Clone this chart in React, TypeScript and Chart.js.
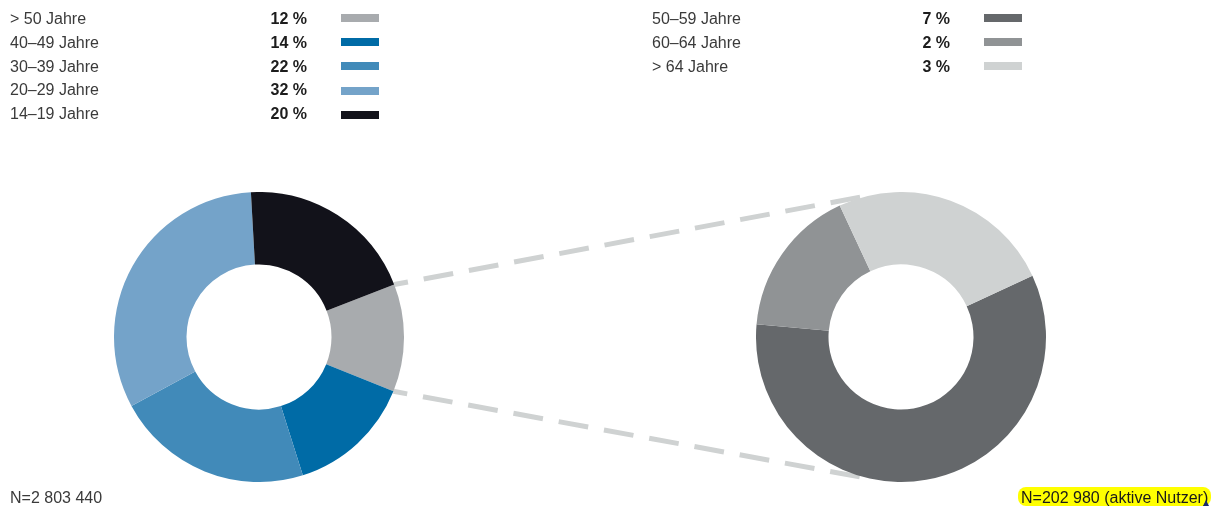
import React, { useEffect, useRef } from "react";
import { Chart, registerables } from "chart.js";

Chart.register(...registerables);

// ---- data ----
const leftLabels = ["> 50 Jahre", "40–49 Jahre", "30–39 Jahre", "20–29 Jahre", "14–19 Jahre"];
const leftValues = [12, 14, 22, 32, 20];
const leftColors = ["#a8abae", "#006ba6", "#418ab9", "#74a3c9", "#12121a"];

const rightLabels = ["50–59 Jahre", "60–64 Jahre", "> 64 Jahre"];
const rightValues = [7, 2, 3];
const rightColors = ["#65686b", "#909395", "#cfd2d2"];

const leftTotal = "N=2 803 440";
const rightTotal = "N=202 980 (aktive Nutzer)";

// ---- layout ----
const W = 1216;
const H = 509;
const SIZE = 290;
const LEFT_POS = { x: 114, y: 192 };
const RIGHT_POS = { x: 756, y: 192 };
const FONT = "'Liberation Sans', Arial, Helvetica, sans-serif";

function makeDoughnut(canvas: HTMLCanvasElement, labels: string[], values: number[], colors: string[], rotation: number) {
  return new Chart(canvas, {
    type: "doughnut",
    data: {
      labels,
      datasets: [
        {
          data: values,
          backgroundColor: colors,
          borderWidth: 0,
          hoverOffset: 0,
        },
      ],
    },
    options: {
      responsive: false,
      animation: false,
      devicePixelRatio: 1,
      cutout: "50%",
      rotation,
      layout: { padding: 0 },
      plugins: {
        legend: { display: false },
        tooltip: { enabled: false },
      },
      events: [],
    },
  });
}

export default function App() {
  const leftRef = useRef<HTMLCanvasElement>(null);
  const rightRef = useRef<HTMLCanvasElement>(null);
  const overlayRef = useRef<HTMLCanvasElement>(null);

  useEffect(() => {
    const prevMargin = document.body.style.margin;
    document.body.style.margin = "0";
    const left = makeDoughnut(leftRef.current!, leftLabels, leftValues, leftColors, 68.8);
    const right = makeDoughnut(rightRef.current!, rightLabels, rightValues, rightColors, 65);

    // connectors from the "> 50 Jahre" slice edges to tangents of the right doughnut
    const ov = overlayRef.current!;
    const ctx = ov.getContext("2d")!;
    ctx.clearRect(0, 0, W, H);
    const la: any = left.getDatasetMeta(0).data[0];
    const lp = la.getProps(["x", "y", "startAngle", "endAngle", "outerRadius"], true);
    const ra: any = right.getDatasetMeta(0).data[0];
    const rp = ra.getProps(["x", "y", "outerRadius"], true);
    const cx = RIGHT_POS.x + rp.x;
    const cy = RIGHT_POS.y + rp.y;
    const R = rp.outerRadius;
    const lcx = LEFT_POS.x + lp.x;
    const lcy = LEFT_POS.y + lp.y;
    const starts = [lp.startAngle, lp.endAngle].map((a: number) => ({
      x: lcx + lp.outerRadius * Math.cos(a),
      y: lcy + lp.outerRadius * Math.sin(a),
    }));
    const tangents = (p: { x: number; y: number }) => {
      const dx = p.x - cx;
      const dy = p.y - cy;
      const d = Math.sqrt(dx * dx + dy * dy);
      const th = Math.atan2(dy, dx);
      const al = Math.acos(R / d);
      return [th + al, th - al].map((a) => ({ x: cx + R * Math.cos(a), y: cy + R * Math.sin(a) }));
    };
    ctx.strokeStyle = "#cfd2d2";
    ctx.lineWidth = 5;
    ctx.lineCap = "butt";
    ctx.setLineDash([30, 16]);
    ctx.lineDashOffset = 16;
    starts.forEach((p, i) => {
      const ts = tangents(p);
      const end = i === 0 ? (ts[0].y < ts[1].y ? ts[0] : ts[1]) : ts[0].y > ts[1].y ? ts[0] : ts[1];
      ctx.beginPath();
      ctx.moveTo(p.x, p.y);
      ctx.lineTo(end.x, end.y);
      ctx.stroke();
    });

    return () => {
      left.destroy();
      right.destroy();
      document.body.style.margin = prevMargin;
    };
  }, []);

  const labelStyle = (x: number, top: number): React.CSSProperties => ({
    position: "absolute",
    left: x,
    top,
    fontFamily: FONT,
    fontSize: 16,
    lineHeight: "24px",
    color: "#3a3a3a",
    whiteSpace: "nowrap",
  });
  const pctStyle = (right: number, top: number): React.CSSProperties => ({
    position: "absolute",
    right: W - right,
    top,
    fontFamily: FONT,
    fontSize: 16,
    fontWeight: "bold",
    lineHeight: "24px",
    color: "#1c1c1c",
    whiteSpace: "nowrap",
  });
  const swatchStyle = (x: number, top: number, color: string): React.CSSProperties => ({
    position: "absolute",
    left: x,
    top,
    width: 38,
    height: 8,
    background: color,
  });

  return (
    <div style={{ position: "absolute", left: 0, top: 0, width: W, height: H, background: "#ffffff", overflow: "hidden" }}>
      <canvas ref={overlayRef} width={W} height={H} style={{ position: "absolute", left: 0, top: 0, width: W, height: H }} />
      <canvas
        ref={leftRef}
        width={SIZE}
        height={SIZE}
        style={{ position: "absolute", left: LEFT_POS.x, top: LEFT_POS.y, width: SIZE, height: SIZE }}
      />
      <canvas
        ref={rightRef}
        width={SIZE}
        height={SIZE}
        style={{ position: "absolute", left: RIGHT_POS.x, top: RIGHT_POS.y, width: SIZE, height: SIZE }}
      />

      {leftLabels.map((l, i) => (
        <React.Fragment key={"l" + i}>
          <div style={labelStyle(10, 7 + i * 23.8)}>{l}</div>
          <div style={pctStyle(307, 7 + i * 23.8)}>{leftValues[i] + " %"}</div>
          <div style={swatchStyle(341, 14 + i * 24.2, leftColors[i])} />
        </React.Fragment>
      ))}
      {rightLabels.map((l, i) => (
        <React.Fragment key={"r" + i}>
          <div style={labelStyle(652, 7 + i * 23.8)}>{l}</div>
          <div style={pctStyle(950, 7 + i * 23.8)}>{rightValues[i] + " %"}</div>
          <div style={swatchStyle(984, 14 + i * 24.2, rightColors[i])} />
        </React.Fragment>
      ))}

      <div style={labelStyle(10, 485.5)}>{leftTotal}</div>
      <div
        style={{
          position: "absolute",
          left: 1018,
          top: 487,
          width: 193,
          height: 19,
          background: "#ffff00",
          borderRadius: 8,
        }}
      />
      <div style={{ ...labelStyle(1021, 485.5), color: "#1a1a1a" }}>{rightTotal}</div>
      <div
        style={{
          position: "absolute",
          left: 1203,
          top: 500,
          width: 0,
          height: 0,
          borderLeft: "3.5px solid transparent",
          borderRight: "3.5px solid transparent",
          borderBottom: "6px solid #1a2a6a",
        }}
      />
    </div>
  );
}
